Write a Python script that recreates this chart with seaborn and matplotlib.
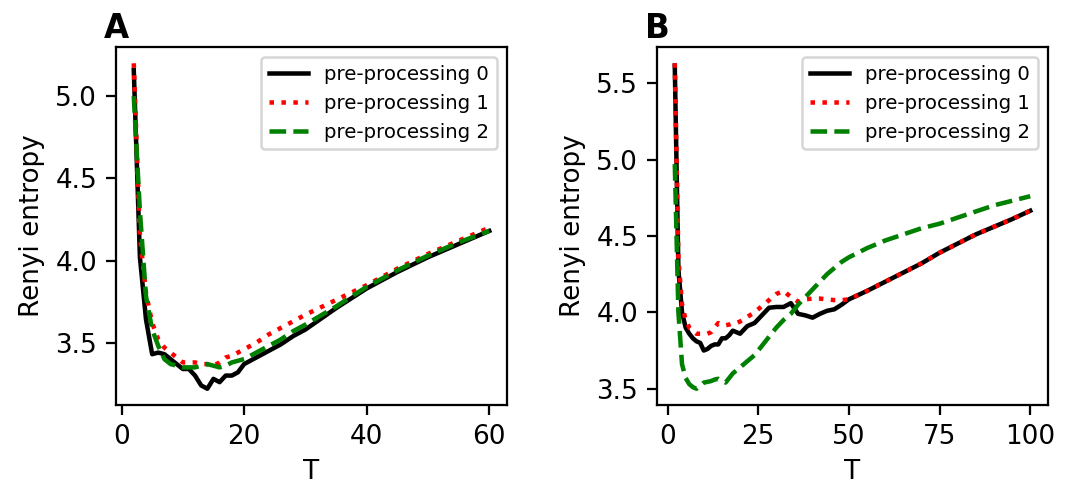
import numpy as np
import pandas as pd
import matplotlib
matplotlib.use("Agg")
import matplotlib.pyplot as plt
from matplotlib.ticker import MultipleLocator
import seaborn as sns

labels = ["pre-processing 0", "pre-processing 1", "pre-processing 2"]
colors = ["black", "red", "green"]
styles = ["-", ":", "--"]

# Panel A
T_A = [2, 3, 4, 5, 6, 7, 8, 9, 10, 11, 12, 13, 14, 15, 16, 17, 18, 19, 20,
       22, 24, 26, 28, 30, 35, 40, 45, 50, 55, 60]
A_pp0 = [5.16, 4.02, 3.64, 3.43, 3.44, 3.43, 3.40, 3.37, 3.34, 3.34, 3.30, 3.24, 3.22, 3.28, 3.26,
         3.30, 3.30, 3.32, 3.37, 3.41, 3.45, 3.49, 3.54, 3.58, 3.71, 3.83, 3.93, 4.02, 4.10, 4.18]
A_pp1 = [5.20, 4.15, 3.80, 3.62, 3.52, 3.47, 3.44, 3.41, 3.38, 3.38, 3.38, 3.37, 3.37, 3.36, 3.38,
         3.41, 3.42, 3.44, 3.46, 3.50, 3.55, 3.59, 3.63, 3.67, 3.76, 3.85, 3.95, 4.04, 4.12, 4.20]
A_pp2 = [5.00, 4.30, 3.78, 3.58, 3.48, 3.40, 3.37, 3.36, 3.35, 3.35, 3.35, 3.36, 3.37, 3.36, 3.35,
         3.36, 3.38, 3.39, 3.40, 3.44, 3.48, 3.52, 3.57, 3.61, 3.72, 3.84, 3.94, 4.03, 4.11, 4.18]

# Panel B
T_B = [2, 3, 4, 5, 6, 7, 8, 9, 10, 11, 12, 13, 14, 15, 16, 17, 18, 19, 20,
       22, 24, 26, 28, 30, 32, 34, 36, 38, 40, 42, 44, 46, 48, 50,
       55, 60, 65, 70, 75, 80, 85, 90, 95, 100]
B_pp0 = [5.615, 4.28, 4.00, 3.90, 3.86, 3.83, 3.81, 3.80, 3.75, 3.76, 3.78, 3.79, 3.79, 3.83, 3.83,
         3.85, 3.88, 3.87, 3.86, 3.91, 3.93, 3.98, 4.03, 4.035, 4.035, 4.06, 3.99, 3.98, 3.965,
         3.99, 4.01, 4.02, 4.05, 4.085, 4.14, 4.20, 4.26, 4.32, 4.39, 4.45, 4.51, 4.56, 4.61, 4.665]
B_pp1 = [5.63, 4.35, 4.05, 3.95, 3.90, 3.88, 3.86, 3.86, 3.86, 3.86, 3.87, 3.90, 3.93, 3.92, 3.915,
         3.92, 3.93, 3.93, 3.94, 3.97, 4.00, 4.04, 4.08, 4.12, 4.14, 4.10, 4.07, 4.085, 4.09,
         4.09, 4.085, 4.08, 4.08, 4.085, 4.14, 4.20, 4.26, 4.32, 4.39, 4.45, 4.51, 4.56, 4.61, 4.665]
B_pp2 = [4.97, 4.00, 3.66, 3.57, 3.53, 3.51, 3.50, 3.52, 3.54, 3.545, 3.55, 3.56, 3.565, 3.55, 3.54,
         3.57, 3.60, 3.62, 3.64, 3.68, 3.72, 3.78, 3.84, 3.90, 3.95, 3.99, 4.05, 4.10, 4.15,
         4.20, 4.25, 4.29, 4.33, 4.36, 4.42, 4.47, 4.51, 4.55, 4.58, 4.62, 4.66, 4.70, 4.73, 4.76]

dpi = 180
fig, axes = plt.subplots(1, 2, figsize=(1069 / dpi, 485 / dpi), dpi=dpi)
fig.subplots_adjust(left=116 / 1069, right=1048 / 1069, top=1 - 47 / 485,
                    bottom=1 - 405 / 485, wspace=150 / 391)

panels = [("A", T_A, [A_pp0, A_pp1, A_pp2], 20), ("B", T_B, [B_pp0, B_pp1, B_pp2], 25)]
for ax, (letter, T, series, step) in zip(axes, panels):
    for vals, lab, col, ls in zip(series, labels, colors, styles):
        sns.lineplot(x=T, y=vals, ax=ax, color=col, linestyle=ls, linewidth=1.8, label=lab)
    ax.xaxis.set_major_locator(MultipleLocator(step))
    ax.yaxis.set_major_locator(MultipleLocator(0.5))
    ax.set_xlabel("T", fontsize=10.5, labelpad=3.5)
    ax.set_ylabel("Renyi entropy", fontsize=10.5)
    ax.tick_params(labelsize=10.5, length=4, width=0.9)
    for s in ax.spines.values():
        s.set_linewidth(0.9)
    ax.legend(loc="upper right", fontsize=7.9)
    ax.text(-0.03, 1.025, letter, transform=ax.transAxes, fontsize=13,
            fontweight="bold", ha="left", va="baseline")

fig.savefig("out.png", dpi=dpi)
